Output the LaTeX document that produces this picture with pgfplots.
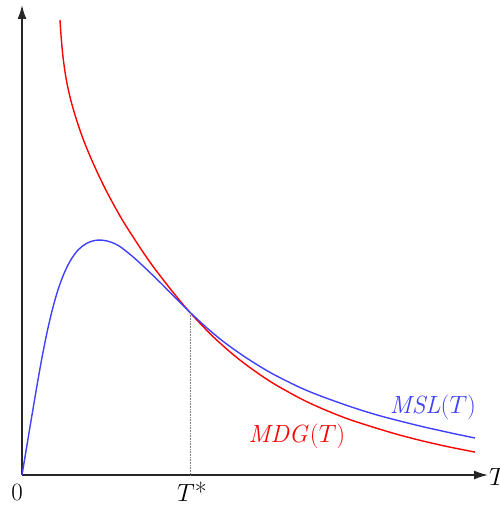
\documentclass[border=0pt]{standalone}
\usepackage{pgfplots}
\pgfplotsset{compat=1.18}
\usetikzlibrary{arrows.meta}
\definecolor{mslblue}{RGB}{64,64,255}
\begin{document}
\begin{tikzpicture}
\path[use as bounding box] (-22pt,-31pt) rectangle (478pt,475pt);
\begin{axis}[
    anchor=origin,
    x=1pt, y=1pt,
    xmin=0, xmax=466,
    ymin=0, ymax=470,
    axis lines=left,
    axis line style={line width=1.5pt, black!85, -{Latex[length=14pt,width=9pt]}},
    xtick=\empty, ytick=\empty,
    clip=false,
]
% MDG(T)
\addplot[red, line width=1.4pt, smooth] coordinates {
    (38,455) (39,440) (41,418) (44,397) (48,378) (53,360) (60,339)
    (68,319) (77,299) (87,279) (100,255.6) (115,232) (130,210) (150,184)
    (168,162.5) (190,139.4) (210,121.4) (228,107.4) (250,92.4) (278,76.7)
    (300,66.4) (325,56.4) (350,48.2) (375,40.7) (400,34.2) (425,28.5)
    (453,22.9)
};
% MSL(T)
\addplot[mslblue, line width=1.4pt, smooth] coordinates {
    (0,0) (5,30) (10,60) (15,89.5) (20,117.5) (25,142.5) (30,164)
    (35,182) (40,196.5) (45,208) (50,217) (55,223.8) (60,228.5)
    (65,231.8) (70,233.8) (75,234.8) (80,234.8) (85,234) (90,232.5)
    (95,230.2) (100,227) (110,219) (120,210) (135,195.7) (150,180.7)
    (168,162.7) (185,147) (200,134.5) (215,123.5) (230,113.5) (250,101.5)
    (278,87.5) (300,78.5) (328,68.5) (350,61.5) (368,56.5) (400,48.5)
    (430,41.8) (453,37)
};
\draw[densely dotted, gray, line width=0.6pt] (axis cs:168,162) -- (axis cs:168,0);
\node[font=\fontsize{26}{30}\selectfont, inner sep=1pt] at (axis cs:-5,-17) {$0$};
\node[font=\fontsize{26}{30}\selectfont, inner sep=1pt] at (axis cs:170,-17) {$T$*};
\node[font=\fontsize{26}{30}\selectfont, anchor=west, inner sep=1pt] at (axis cs:466,-2) {$T$};
\node[font=\fontsize{25}{30}\selectfont, text=mslblue] at (axis cs:411,68) {$\mathit{MSL}(T)$};
\node[font=\fontsize{25}{30}\selectfont, text=red] at (axis cs:275,39) {$\mathit{MDG}(T)$};
\end{axis}
\end{tikzpicture}
\end{document}
